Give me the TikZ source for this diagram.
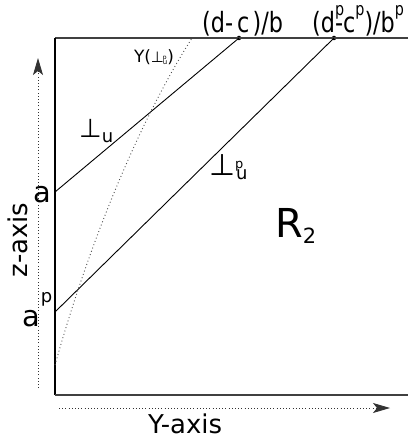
\documentclass[tikz,border=0pt]{standalone}
\usepackage{fontspec}
\setmainfont{DejaVu Sans}
\usepackage{graphicx}
\usetikzlibrary{arrows.meta}
\newcommand{\upp}[2]{\raisebox{#1}{\fontsize{#2}{#2}\selectfont p}}

\begin{document}
\begin{tikzpicture}[x=1bp, y=-1bp,
  edge/.style={draw=black!75, line width=1.8bp},
  wall/.style={draw=black, line width=1.1bp},
  ray/.style={draw=black, line width=0.9bp},
  axis/.style={draw=black!80, line width=0.9bp, dash pattern=on 0.9bp off 2.3bp,
    -{Stealth[length=17bp, width=10bp, inset=4bp]}},
  gam/.style={draw=black!70, line width=0.9bp, dash pattern=on 0.9bp off 2.6bp},
  pt/.style={circle, fill=black, inner sep=0pt, minimum size=4.5bp},
  lbl/.style={inner sep=0pt, anchor=base west},
  axlbl/.style={inner sep=0pt, anchor=base, font=\fontsize{26}{28}\selectfont},
]
\useasboundingbox (0,0) rectangle (408,445);

\coordinate (tl) at (55,38);
\coordinate (tr) at (408,38);
\coordinate (bl) at (55,395);
\coordinate (br) at (408,395);
\coordinate (a) at (55,192);
\coordinate (ap) at (55,312);
\coordinate (g0) at (55,365);
\coordinate (g1) at (192,38);
\coordinate (z0) at (38,388);
\coordinate (z1) at (38,58);
\coordinate (y0) at (59,408);
\coordinate (y1) at (390,408);
\node[pt] (q) at (239,38) {};
\node[pt] (qp) at (334,38) {};

\draw[edge] (tr) -- (tl);
\draw[wall] (tl) -- (bl);
\draw[edge] (bl) -- (br);

\draw[ray] (a) -- (q.center);
\draw[ray] (ap) -- (qp.center);
\draw[gam] (g0) .. controls (90,240) and (140,120) .. (g1);

\draw[axis] (z0) -- (z1);
\draw[axis] (y0) -- (y1);

\node[lbl, font=\fontsize{29}{30}\selectfont] (alab) at (33,203) {a};
\node[lbl, font=\fontsize{29}{30}\selectfont] (aplab) at (22,326) {a\kern1bp\upp{24bp}{18}};
\node[lbl, font=\fontsize{28}{30}\selectfont] (dlab) at (202,33)
  {\scalebox{0.8}[1]{(d-\kern5bp c\kern4bp)/b}};
\node[lbl, font=\fontsize{28}{30}\selectfont] (dplab) at (312,33)
  {\scalebox{0.8}[1]{(d\rlap{\upp{17bp}{18}}-c\upp{17bp}{18})/b\upp{17bp}{18}}};
\node[lbl, font=\fontsize{26}{26}\selectfont] (perp) at (79,138)
  {⊥\raisebox{-5bp}{\fontsize{18}{18}\selectfont u}};
\node[lbl, font=\fontsize{30}{30}\selectfont] (perpp) at (209,176)
  {⊥\rlap{\upp{7bp}{13}}\kern1bp\raisebox{-4bp}{\fontsize{18}{18}\selectfont u}};
\node[inner sep=0pt, font=\fontsize{17}{18}\selectfont] (glab) at (154,57)
  {Y(\fontsize{15}{15}\selectfont ⊥\kern-1bp\rlap{\raisebox{3bp}{\fontsize{6}{6}\selectfont p}}\raisebox{-2bp}{\fontsize{7}{7}\selectfont u}\fontsize{17}{18}\selectfont )};
\node[lbl, font=\fontsize{40}{40}\selectfont] (reg) at (275,237)
  {R\raisebox{-6bp}{\fontsize{21}{21}\selectfont 2}};

\node[axlbl] (ylab) at (185,433) {Y-axis};
\node[axlbl, rotate=90] (zlab) at (27,240) {z-axis};

\end{tikzpicture}
\end{document}
